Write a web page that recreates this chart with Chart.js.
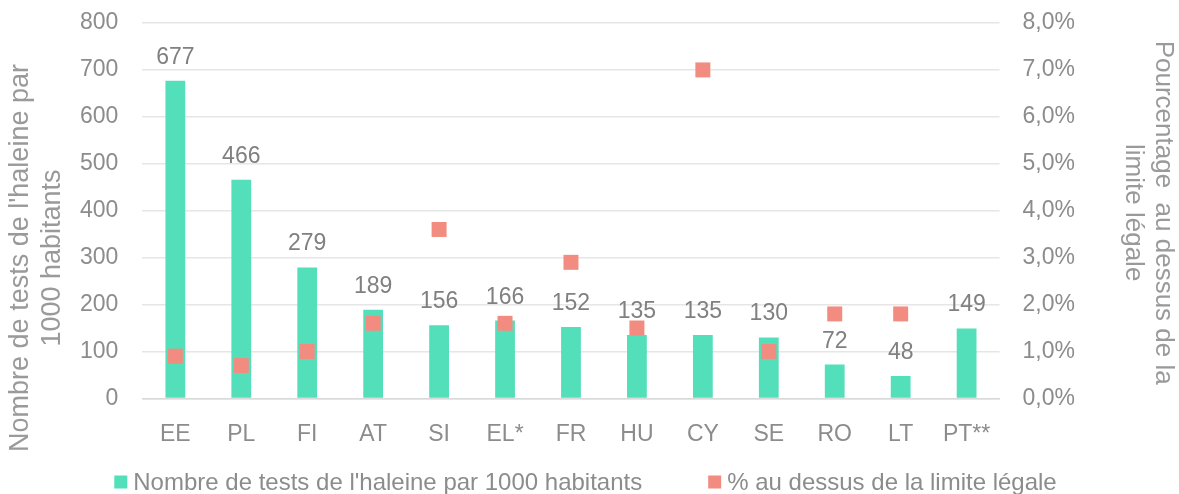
<!DOCTYPE html>
<html>
<head>
<meta charset="utf-8">
<script src="https://cdn.jsdelivr.net/npm/chart.js"></script>
<style>
  *{margin:0;padding:0;box-sizing:border-box}
  body{background:#fff;width:1179px;height:494px;overflow:hidden}
  canvas{display:block}
</style>
</head>
<body>
<canvas id="c" width="1179" height="494"></canvas>
<script>
const COUNTRIES = ["EE", "PL", "FI", "AT", "SI", "EL*", "FR", "HU", "CY", "SE", "RO", "LT", "PT**"];
const TESTS_PER_1000 = [677, 466, 279, 189, 156, 166, 152, 135, 135, 130, 72, 48, 149];
const PCT_ABOVE_LIMIT = [0.9, 0.7, 1.0, 1.6, 3.6, 1.6, 2.9, 1.5, 7.0, 1.0, 1.8, 1.8, null];

const LEFT_TITLE = ["Nombre de tests de l'haleine par", "1000 habitants"];
const RIGHT_TITLE = ["Pourcentage  au dessus de la", "limite légale"];

const GREY = "#8c8c8c";
const TITLE_GREY = "#9a9a9a";
const FONT = "'Liberation Sans', Arial, sans-serif";
const BAR_COLOR = "#53dfb9";
const DOT_COLOR = "#f28c80";

// value labels above the bars, axis titles and the legend
const extras = {
  id: "extras",
  afterDatasetsDraw(chart) {
    const ctx = chart.ctx;
    const meta = chart.getDatasetMeta(0);
    ctx.save();
    ctx.font = "23px " + FONT;
    ctx.fillStyle = "#808080";
    ctx.textAlign = "center";
    ctx.textBaseline = "alphabetic";
    meta.data.forEach((bar, i) => {
      ctx.fillText(String(TESTS_PER_1000[i]), bar.x, bar.y - 17);
    });
    ctx.restore();
  },
  afterDraw(chart) {
    const ctx = chart.ctx;
    const area = chart.chartArea;
    ctx.save();
    ctx.fillStyle = TITLE_GREY;
    ctx.textAlign = "center";
    ctx.textBaseline = "middle";

    // left title, reads bottom to top
    ctx.font = "27px " + FONT;
    ctx.save();
    ctx.translate(37, 258);
    ctx.rotate(-Math.PI / 2);
    LEFT_TITLE.forEach((t, i) => ctx.fillText(t, 0, -16 + i * 32));
    ctx.restore();

    // right title, reads top to bottom
    ctx.font = "26px " + FONT;
    ctx.save();
    ctx.translate(1148, (area.top + area.bottom) / 2 + 2);
    ctx.rotate(Math.PI / 2);
    RIGHT_TITLE.forEach((t, i) => ctx.fillText(t, 0, -15 + i * 30));
    ctx.restore();

    // legend
    const items = chart.data.datasets.map(d => ({ text: d.label, color: d.backgroundColor }));
    ctx.font = "24px " + FONT;
    ctx.textAlign = "left";
    ctx.textBaseline = "middle";
    const box = 13, gapText = 6, gapItem = 66;
    const widths = items.map(it => box + gapText + ctx.measureText(it.text).width);
    const total = widths.reduce((a, b) => a + b, 0) + gapItem * (items.length - 1);
    let x = (chart.width - total) / 2 - 4;
    const y = 482;
    items.forEach((it, i) => {
      ctx.fillStyle = it.color;
      ctx.fillRect(x, y - box / 2, box, box);
      ctx.fillStyle = GREY;
      ctx.fillText(it.text, x + box + gapText, y + 1);
      x += widths[i] + gapItem;
    });
    ctx.restore();
  }
};

// tick padding also pushes the plot down; cancel that vertical part
const noVPad = scale => { scale.paddingTop = 0; scale.paddingBottom = 0; };

new Chart(document.getElementById("c"), {
  type: "bar",
  data: {
    labels: COUNTRIES,
    datasets: [
      {
        label: "Nombre de tests de l'haleine par 1000 habitants",
        data: TESTS_PER_1000,
        backgroundColor: BAR_COLOR,
        barPercentage: 0.30,
        categoryPercentage: 1,
        yAxisID: "y",
        order: 2
      },
      {
        type: "line",
        label: "% au dessus de la limite légale",
        data: PCT_ABOVE_LIMIT,
        showLine: false,
        pointStyle: "rect",
        pointRadius: 10.6,
        pointHoverRadius: 10.6,
        backgroundColor: DOT_COLOR,
        borderColor: DOT_COLOR,
        borderWidth: 0,
        clip: false,
        yAxisID: "y1",
        order: 1
      }
    ]
  },
  options: {
    responsive: false,
    animation: false,
    devicePixelRatio: 1,
    layout: { autoPadding: false, padding: { left: 56, right: 81, top: 23, bottom: 24 } },
    plugins: {
      legend: { display: false },
      tooltip: { enabled: false }
    },
    scales: {
      x: {
        grid: { display: false, drawTicks: false },
        border: { color: "#d9d9d9", width: 1.5 },
        ticks: { color: GREY, font: { family: FONT, size: 23 }, padding: 22, maxRotation: 0 }
      },
      y: {
        position: "left",
        min: 0, max: 800,
        afterFit: noVPad,
        ticks: { stepSize: 100, color: GREY, font: { family: FONT, size: 23 }, padding: 24 },
        grid: { color: "#e6e6e6", lineWidth: 1.5, drawTicks: false },
        border: { display: false }
      },
      y1: {
        position: "right",
        min: 0, max: 8,
        afterFit: noVPad,
        ticks: {
          stepSize: 1,
          color: GREY,
          font: { family: FONT, size: 23 },
          padding: 23,
          callback: v => v.toFixed(1).replace(".", ",") + "%"
        },
        grid: { drawOnChartArea: false, drawTicks: false },
        border: { display: false }
      }
    }
  },
  plugins: [extras]
});
</script>
</body>
</html>
